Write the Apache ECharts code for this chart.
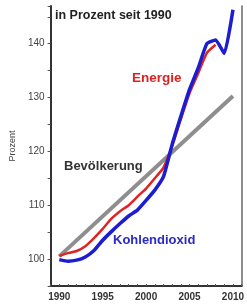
<!DOCTYPE html>
<html>
<head>
<meta charset="utf-8">
<script src="https://cdn.jsdelivr.net/npm/echarts@6/dist/echarts.min.js"></script>
<style>
  html, body { margin: 0; padding: 0; background: #fff; }
  #chart { width: 247px; height: 306px; }
</style>
</head>
<body>
<div id="chart"></div>
<script>
// values (index 1990 = 100)
const years = [1990, 1991, 1992, 1993, 1994, 1995, 1996, 1997, 1998, 1999,
               2000, 2001, 2002, 2003, 2004, 2005, 2006, 2007, 2008, 2009, 2010];
const co2 = [99.9, 99.6, 99.8, 100.4, 101.6, 103.5, 105.1, 106.6, 108.0, 109.1,
             110.9, 112.8, 115.3, 121.3, 126.5, 131.5, 135.5, 140.0, 140.7, 138.2, 146.3];
const energie = [100.6, 101.1, 101.5, 102.4, 103.9, 105.6, 107.5, 108.9, 110.0, 111.6,
                 113.1, 115.0, 117.0, 121, 126, 130.8, 134.5, 138.3, 139.8];
const bevYears = [1990, 2010];
const bevoelkerung = [100.5, 130.3];

const chart = echarts.init(document.getElementById("chart"));

const pair = (xs, ys) => ys.map((v, i) => [xs[i], v]);
const font = "Liberation Sans, Arial, sans-serif";

chart.setOption({
  animation: false,
  backgroundColor: "#fff",
  grid: { left: 49, right: 5, top: 6, bottom: 20 },
  xAxis: {
    type: "value",
    min: 1989,
    max: 2011,
    interval: 1,
    axisLine: { lineStyle: { color: "#333", width: 2 } },
    axisTick: { inside: true, length: 2, lineStyle: { color: "#555" } },
    splitLine: { show: false },
    axisLabel: {
      margin: 6,
      fontSize: 10,
      fontWeight: "bold",
      color: "#333",
      fontFamily: font,
      formatter: (v) => (v % 5 === 0 ? String(v) : ""),
    },
  },
  yAxis: [
    {
      type: "value",
      min: 95,
      max: 147,
      interval: 5,
      name: "Prozent",
      nameLocation: "middle",
      nameGap: 33,
      nameTextStyle: { fontSize: 9, color: "#444", fontFamily: font },
      axisLine: { show: true, lineStyle: { color: "#333", width: 2 } },
      axisTick: { show: true, length: 3, lineStyle: { color: "#555" } },
      splitLine: { show: false },
      axisLabel: {
        margin: 6,
        fontSize: 10,
        color: "#444",
        fontFamily: font,
        formatter: (v) => (v % 10 === 0 ? String(v) : ""),
      },
    },
    {
      type: "value",
      position: "right",
      min: 95,
      max: 147,
      axisLine: { show: true, lineStyle: { color: "#666", width: 1.5 } },
      axisTick: { show: false },
      axisLabel: { show: false },
      splitLine: { show: false },
    },
  ],
  series: [
    {
      name: "Bevölkerung",
      type: "line",
      data: pair(bevYears, bevoelkerung),
      showSymbol: false,
      lineStyle: { color: "#8e8e8e", width: 4 },
      z: 2,
    },
    {
      name: "Energie",
      type: "line",
      data: pair(years, energie),
      showSymbol: false,
      smooth: 0.15,
      lineStyle: { color: "#e02424", width: 2.5, join: "round" },
      z: 3,
    },
    {
      name: "Kohlendioxid",
      type: "line",
      data: pair(years, co2),
      showSymbol: false,
      smooth: 0.15,
      lineStyle: { color: "#1c1cd0", width: 3.5, join: "round" },
      z: 4,
    },
  ],
  graphic: [
    {
      type: "text", left: 55, top: 9,
      style: { text: "in Prozent seit 1990", fill: "#222", font: "bold 12.5px " + font },
    },
    {
      type: "text", left: 132, top: 71,
      style: { text: "Energie", fill: "#dd2222", font: "bold 13.5px " + font },
    },
    {
      type: "text", left: 64, top: 160,
      style: { text: "Bevölkerung", fill: "#333", font: "bold 13px " + font },
    },
    {
      type: "text", left: 113, top: 234,
      style: { text: "Kohlendioxid", fill: "#2a2ac8", font: "bold 13px " + font },
    },
  ],
});
</script>
</body>
</html>
